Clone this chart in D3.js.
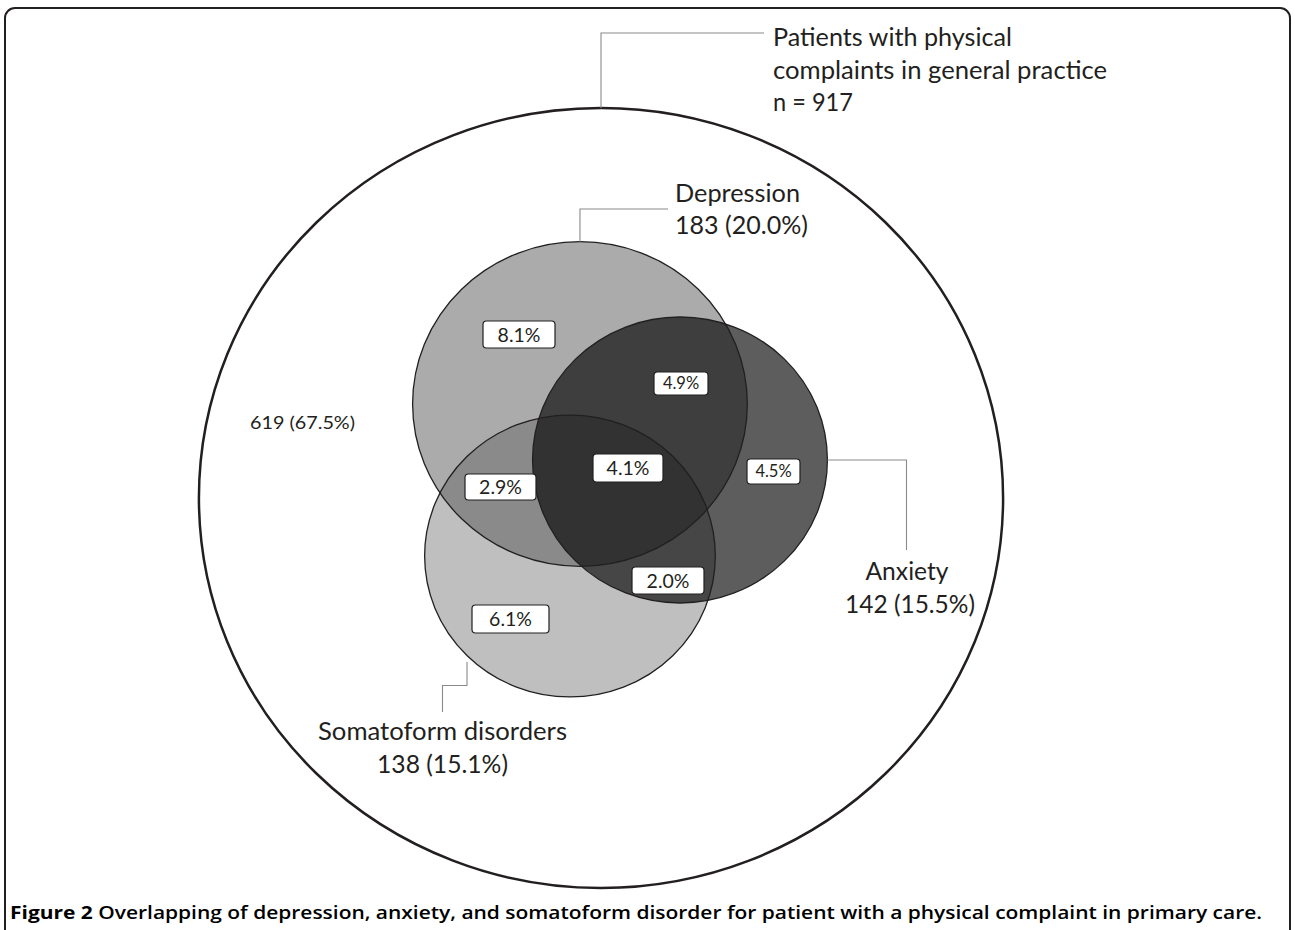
<!DOCTYPE html>
<html><head><meta charset="utf-8">
<script src="https://cdn.jsdelivr.net/npm/d3@7"></script>
<style>body{margin:0;background:#fff}svg{display:block}</style>
</head><body>
<script>
// ---- data ----
const total = 917;
const setNames = ["Depression", "Anxiety", "Somatoform disorders"];
const setCounts = [183, 142, 138];
const setPcts = ["20.0%", "15.5%", "15.1%"];
const regionLabels = ["8.1%", "4.9%", "4.1%", "4.5%", "2.9%", "2.0%", "6.1%"];
const noneCount = 619, nonePct = "67.5%";
const titleLines = ["Patients with physical", "complaints in general practice", "n = " + total];
const captionBold = "Figure 2";
const captionRest = " Overlapping of depression, anxiety, and somatoform disorder for patient with a physical complaint in primary care.";

// ---- layout (positions / styles) ----
const W = 1295, H = 930;
const cx = 601, cy = 498, sx = 1.031;
const outerR = 390;
const setLayout = [
  {dx: -20.4, dy: -94, fill: "#ababab", op: 1},
  {dx: 76.6, dy: -38, fill: "#000000", op: 0.636},
  {dx: -30.1, dy: 58, fill: "#525252", op: 0.369}
];
const drawOrder = [0, 2, 1];
const boxLayout = [
  {x: 519, y: 334.5, w: 72, h: 27, fs: 19.5},
  {x: 681, y: 383.5, w: 54, h: 23, fs: 16.5},
  {x: 628, y: 468, w: 70, h: 28, fs: 19.5},
  {x: 773.5, y: 471.5, w: 53, h: 25, fs: 16.5},
  {x: 500.5, y: 487, w: 71, h: 26, fs: 19.5},
  {x: 668, y: 580.5, w: 72, h: 27, fs: 19.5},
  {x: 510.5, y: 619, w: 77, h: 28, fs: 19.5}
];
const FONT = "Lato, 'Open Sans', sans-serif";
const TXT = "#231f20";

const rScale = d3.scaleSqrt().domain([0, total]).range([0, 12.0 * Math.sqrt(total)]);

const svg = d3.select("body").append("svg").attr("width", W).attr("height", H);

// frame
svg.append("rect").attr("x", 5).attr("y", 8).attr("width", 1285).attr("height", 940)
  .attr("rx", 10).attr("fill", "none").attr("stroke", "#231f20").attr("stroke-width", 2);

const g = svg.append("g").attr("transform", `translate(${cx},${cy}) scale(${sx},1)`);

// outer population circle
g.append("circle").attr("r", outerR).attr("fill", "none")
  .attr("stroke", "#231f20").attr("stroke-width", 2.5).attr("vector-effect", "non-scaling-stroke");

// fills
g.selectAll("circle.fill").data(drawOrder).join("circle").attr("class", "fill")
  .attr("cx", i => setLayout[i].dx).attr("cy", i => setLayout[i].dy)
  .attr("r", i => rScale(setCounts[i]))
  .attr("fill", i => setLayout[i].fill).attr("fill-opacity", i => setLayout[i].op);
// outlines
g.selectAll("circle.edge").data(drawOrder).join("circle").attr("class", "edge")
  .attr("cx", i => setLayout[i].dx).attr("cy", i => setLayout[i].dy)
  .attr("r", i => rScale(setCounts[i]))
  .attr("fill", "none").attr("stroke", "#231f20").attr("stroke-width", 1.3)
  .attr("vector-effect", "non-scaling-stroke");

// helpers for circle extreme points in page coords
const px = (i, ang) => cx + sx * (setLayout[i].dx + rScale(setCounts[i]) * Math.cos(ang));
const py = (i, ang) => cy + setLayout[i].dy + rScale(setCounts[i]) * Math.sin(ang);

// leader lines
const lc = "#8a8a8a";
const line = d3.line();
const leaders = [
  [[cx, cy - outerR], [cx, 33], [764, 33]],
  [[px(0, -Math.PI / 2), py(0, -Math.PI / 2)], [px(0, -Math.PI / 2), 209], [668, 209]],
  [[px(1, 0), py(1, 0)], [906.5, py(1, 0)], [906.5, 550]],
  [[467, 662], [467, 685.5], [442.5, 685.5], [442.5, 712]]
];
svg.selectAll("path.leader").data(leaders).join("path").attr("class", "leader")
  .attr("d", d => line(d)).attr("fill", "none").attr("stroke", lc).attr("stroke-width", 1.1);

// region boxes
const bg = svg.selectAll("g.box").data(regionLabels).join("g").attr("class", "box")
  .attr("transform", (d, i) => `translate(${boxLayout[i].x},${boxLayout[i].y})`);
bg.append("rect").attr("x", (d, i) => -boxLayout[i].w / 2).attr("y", (d, i) => -boxLayout[i].h / 2)
  .attr("width", (d, i) => boxLayout[i].w).attr("height", (d, i) => boxLayout[i].h)
  .attr("rx", 3.5).attr("fill", "#fff").attr("stroke", "#231f20").attr("stroke-width", 1.2);
bg.append("text").text(d => d).attr("text-anchor", "middle").attr("dy", "0.36em")
  .attr("font-family", FONT).attr("font-size", (d, i) => boxLayout[i].fs).attr("fill", TXT);

function label(x, y, str, fs, anchor, len) {
  const t = svg.append("text").attr("x", x).attr("y", y).text(str)
    .attr("font-family", FONT).attr("font-size", fs).attr("fill", TXT)
    .attr("text-anchor", anchor);
  if (len) t.attr("textLength", len).attr("lengthAdjust", "spacingAndGlyphs");
  return t;
}

// title
label(773, 46, titleLines[0], 25, "start", 239);
label(773, 78.5, titleLines[1], 25, "start", 334);
label(773, 111, titleLines[2], 25, "start", 80);

// set labels
label(675, 202, setNames[0], 25, "start", 125);
label(675, 234, `${setCounts[0]} (${setPcts[0]})`, 25, "start", 133);
label(907, 580, setNames[1], 25, "middle", 83);
label(910, 613, `${setCounts[1]} (${setPcts[1]})`, 25, "middle", 130);
label(442.5, 740, setNames[2], 25, "middle", 249);
label(442.5, 773, `${setCounts[2]} (${setPcts[2]})`, 25, "middle", 131);

// none
label(250, 429, `${noneCount} (${nonePct})`, 18, "start", 105);

// caption
const cap = svg.append("text").attr("x", 10).attr("y", 919)
  .attr("font-family", "'Open Sans', sans-serif").attr("font-size", 18).attr("fill", "#000")
  .attr("textLength", 1252).attr("lengthAdjust", "spacingAndGlyphs");
cap.append("tspan").attr("font-weight", 700).text(captionBold);
cap.append("tspan").attr("font-weight", 600).text(captionRest);
</script>
</body></html>
